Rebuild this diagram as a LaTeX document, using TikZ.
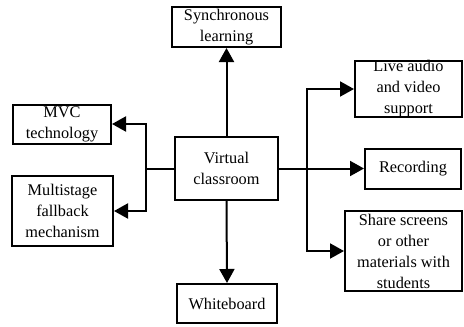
\documentclass[tikz,border=0pt]{standalone}
\usepackage{fontspec}
\setmainfont{Liberation Serif}
\usetikzlibrary{arrows.meta}
\begin{document}
\begin{tikzpicture}[x=1pt,y=-1pt,
  box/.style={draw, line width=2pt, inner sep=0pt, align=center,
    font=\fontsize{16.3}{21}\selectfont},
  link/.style={line width=2pt},
  arrow/.style={link, -{Triangle[length=14pt,width=15pt]}}]
  \useasboundingbox (0,0) rectangle (464,327);
  % central node
  \node[box, minimum width=103pt, minimum height=63pt] (vc) at (226.5,168.5) {Virtual\\classroom};
  % top and bottom
  \node[box, minimum width=109pt, minimum height=40pt] (sync) at (226.5,27) {Synchronous\\learning};
  \node[box, minimum width=100pt, minimum height=39pt] (white) at (227,303.5) {Whiteboard};
  % left branch
  \node[box, minimum width=98pt, minimum height=39pt] (mvc) at (62,124) {MVC\\technology};
  \node[box, minimum width=101pt, minimum height=70pt] (multi) at (62.5,211) {Multistage\\fallback\\mechanism};
  % right branch
  \node[box, minimum width=107pt, minimum height=56pt] (live) at (408.5,89) {Live audio\\and video\\support};
  \node[box, minimum width=96pt, minimum height=40pt] (rec) at (413,168.5) {Recording};
  \node[box, minimum width=117pt, minimum height=80pt] (share) at (403.5,251) {Share screens\\or other\\materials with\\students};
  % junction points
  \coordinate (jl) at (146,168.5);
  \coordinate (jr) at (307,168.5);
  % connectors
  \draw[arrow] (vc.north) -- (sync.south);
  \draw[arrow] (vc.south) -- (white.north);
  \draw[link] (vc.west) -- (jl);
  \draw[arrow] (jl) |- (mvc.east);
  \draw[arrow] (jl) |- (multi.east);
  \draw[arrow] (vc.east) -- (rec.west);
  \draw[arrow] (jr) |- (live.west);
  \draw[arrow] (jr) |- (share.west);
\end{tikzpicture}
\end{document}
